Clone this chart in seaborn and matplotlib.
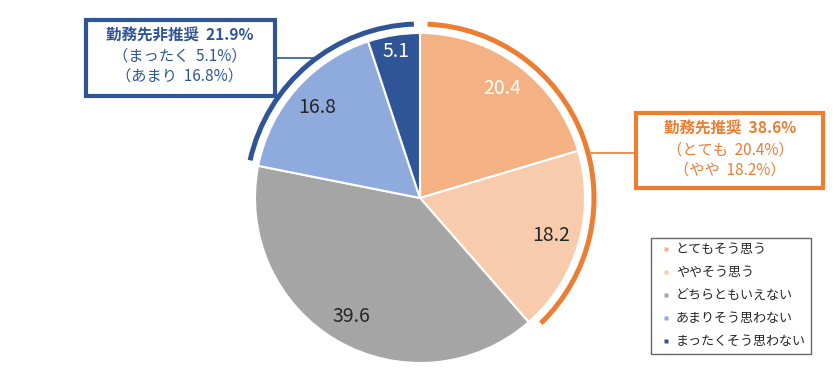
import matplotlib
matplotlib.use("Agg")
import numpy as np
import matplotlib.pyplot as plt
import seaborn as sns
from matplotlib.patches import Arc, Rectangle
from matplotlib.lines import Line2D

sns.set_theme(style="white")
plt.rcParams['font.family'] = ['Noto Sans CJK JP', 'DejaVu Sans']

categories = ['とてもそう思う', 'ややそう思う', 'どちらともいえない', 'あまりそう思わない', 'まったくそう思わない']
values = [20.4, 18.2, 39.6, 16.8, 5.1]
colors = ['#F4B183', '#F8CBAD', '#A5A5A5', '#8FAADC', '#2F5597']
label_colors = ['white', '#262626', '#262626', '#262626', 'white']

recommend_title = '勤務先推奨'
recommend_total = 38.6
not_recommend_title = '勤務先非推奨'
not_recommend_total = 21.9

orange = '#ED7D31'
blue = '#2F5597'

W, H = 840, 380
fig = plt.figure(figsize=(8.4, 3.8), dpi=100)
ax = fig.add_axes([0, 0, 1, 1])

def py(y):
    return H - y

cx, cy, r = 420, py(198), 165

wedges, _ = ax.pie(values, colors=colors, startangle=90, counterclock=False,
                   center=(cx, cy), radius=r, frame=True,
                   wedgeprops=dict(edgecolor='white', linewidth=1.5))
ax.set_xlim(0, W)
ax.set_ylim(0, H)
ax.set_aspect('equal')
ax.axis('off')

# value labels inside slices
for w, v, c in zip(wedges, values, label_colors):
    mid = np.deg2rad((w.theta1 + w.theta2) / 2)
    d = 0.83 if v > 10 else 0.9
    ax.text(cx + r * d * np.cos(mid), cy + r * d * np.sin(mid), f'{v:.1f}',
            ha='center', va='center', fontsize=14, color=c)

# outer arcs for grouped totals
ra = 174
ax.add_patch(Arc((cx, cy), 2 * ra, 2 * ra, theta1=-46, theta2=87.5,
                 color=orange, linewidth=3.6))
ax.add_patch(Arc((cx, cy), 2 * ra, 2 * ra, theta1=92, theta2=167.5,
                 color=blue, linewidth=3.6))

# connector lines
ax.plot([591, 635], [py(153), py(153)], color=orange, linewidth=1.2)
ax.plot([275, 316], [py(58), py(58)], color=blue, linewidth=1.2)

# annotation boxes
ax.add_patch(Rectangle((636, py(188)), 187, 75, fill=False, edgecolor=orange, linewidth=3))
ax.add_patch(Rectangle((86, py(96)), 189, 76, fill=False, edgecolor=blue, linewidth=3))

fs = 11
ax.text(730, py(129), f'{recommend_title}  {recommend_total}%', ha='center', va='center',
        fontsize=11.2, fontweight='bold', color=orange)
ax.text(730, py(150), f'（とても  {values[0]}%）', ha='center', va='center', fontsize=fs, color=orange)
ax.text(730, py(170), f'（やや  {values[1]}%）', ha='center', va='center', fontsize=fs, color=orange)

ax.text(180, py(36), f'{not_recommend_title}  {not_recommend_total}%', ha='center', va='center',
        fontsize=11.2, fontweight='bold', color=blue)
ax.text(180, py(56), f'（まったく  {values[4]}%）', ha='center', va='center', fontsize=fs, color=blue)
ax.text(180, py(76), f'（あまり  {values[3]}%）', ha='center', va='center', fontsize=fs, color=blue)

handles = [Line2D([], [], linestyle='none', marker='s', markersize=3.2,
                  markerfacecolor=c, markeredgecolor='none') for c in colors]
leg = ax.legend(handles, categories, loc='upper left', bbox_to_anchor=(651 / W, 1 - 238 / H),
                borderaxespad=0, fontsize=9.4, frameon=True, fancybox=False,
                handlelength=1.5, handletextpad=0.0,
                labelspacing=0.77, borderpad=0.4)
leg.get_frame().set_edgecolor('#404040')
leg.get_frame().set_linewidth(1.0)

fig.savefig('out.png', dpi=100)
